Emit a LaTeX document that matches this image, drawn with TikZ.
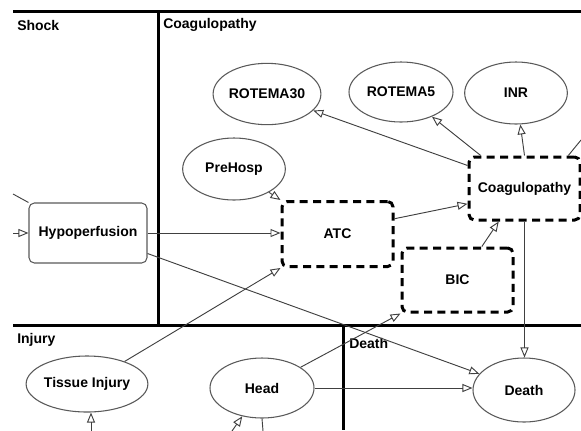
\documentclass[tikz,border=0pt]{standalone}
\usepackage{fontspec}
\setmainfont{Liberation Sans}
\usetikzlibrary{shapes.geometric,arrows.meta,calc}
\tikzset{
  lbl/.style={font=\fontsize{10.5}{12}\selectfont\bfseries, text=black},
  hdr/.style={lbl, anchor=west, inner sep=0pt},
  ell/.style={ellipse, draw=black!65, line width=0.8pt, lbl, inner sep=0pt},
  dbox/.style={draw=black, line width=2.25pt, dash pattern=on 6pt off 4pt, rounded corners=4pt, lbl, inner sep=0pt},
  sbox/.style={draw=black!65, line width=0.8pt, rounded corners=4pt, lbl, inner sep=0pt},
  wall/.style={line width=2.25pt, black},
  edge/.style={draw=black!75, line width=0.7pt, -{Triangle[open,length=7.5pt,width=6pt]}},
  plain/.style={draw=black!75, line width=0.7pt}
}
\begin{document}
\begin{tikzpicture}[x=0.75pt,y=-0.75pt]
\useasboundingbox (0,0) rectangle (581,430);
% walls
\coordinate (w1) at (13,11);
\coordinate (w2) at (581,11);
\coordinate (w3) at (158,11);
\coordinate (w4) at (158,325);
\coordinate (w5) at (13,325);
\coordinate (w6) at (581,325);
\coordinate (w7) at (343,325);
\coordinate (w8) at (343,430);
\draw[wall] (w1) -- (w2);
\draw[wall] (w3) -- (w4);
\draw[wall] (w5) -- (w6);
\draw[wall] (w7) -- (w8);
% headers
\node[hdr] (hshock) at (17,25) {Shock};
\node[hdr] (hcoag) at (163,25) {Coagulopathy};
\node[hdr] (hinj) at (17,340) {Injury};
\node[hdr] (hdeath) at (349,343) {Death};
% nodes
\node[ell, minimum width=75pt, minimum height=46pt] (r30) at (267,94) {ROTEMA30};
\node[ell, minimum width=78pt, minimum height=45pt] (r5) at (401,92) {ROTEMA5};
\node[ell, minimum width=77pt, minimum height=46.5pt] (inr) at (516,93) {INR};
\node[ell, minimum width=77pt, minimum height=46.5pt] (pre) at (234,169) {PreHosp};
\node[sbox, minimum width=88.5pt, minimum height=45pt] (hypo) at (88,233) {Hypoperfusion};
\node[dbox, minimum width=83.25pt, minimum height=48.75pt] (atc) at (337.5,234) {ATC};
\node[dbox, minimum width=83.25pt, minimum height=48pt] (bic) at (457.5,280) {BIC};
\node[dbox, minimum width=83.25pt, minimum height=47.25pt] (coag) at (524.5,188.5) {Coagulopathy};
\node[ell, minimum width=76.5pt, minimum height=42pt] (tis) at (87,384) {Tissue Injury};
\node[ell, minimum width=78pt, minimum height=45pt] (head) at (262,388) {Head};
\node[ell, minimum width=76.5pt, minimum height=48pt] (death) at (524,390) {Death};
% free ends
\coordinate (lin) at (13,233);
\coordinate (lin2) at (13,194);
\coordinate (cout) at (581,140);
\coordinate (tin) at (91,431);
\coordinate (hin) at (232,431);
\coordinate (hout) at (263,431);
% edges
\draw[edge] (lin) -- (hypo.west);
\draw[plain] (lin2) -- (hypo.north west);
\draw[edge] (hypo.east) -- (hypo.east -| atc.west);
\draw[edge] (hypo.-19) -- (death);
\draw[edge] (tis) -- (atc.south west);
\draw[edge] (pre) -- (atc.north west);
\draw[edge] (atc.15) -- (coag.195);
\draw[edge] (bic.54) -- (coag.232);
\draw[edge] (coag.158) -- (r30);
\draw[edge] (coag.143) -- (r5);
\draw[edge] (coag.north) -- (inr);
\draw[plain] (coag.37) -- (cout);
\draw[edge] (coag.south) -- (coag.south |- death.north);
\draw[edge] (head) -- (bic.south west);
\draw[edge] (head.east) -- (head.east -| death.west);
\draw[edge] (tin) -- (tin |- tis.south);
\draw[edge] (hin) -- (head);
\draw[plain] (head.south) -- (hout);
\end{tikzpicture}
\end{document}
